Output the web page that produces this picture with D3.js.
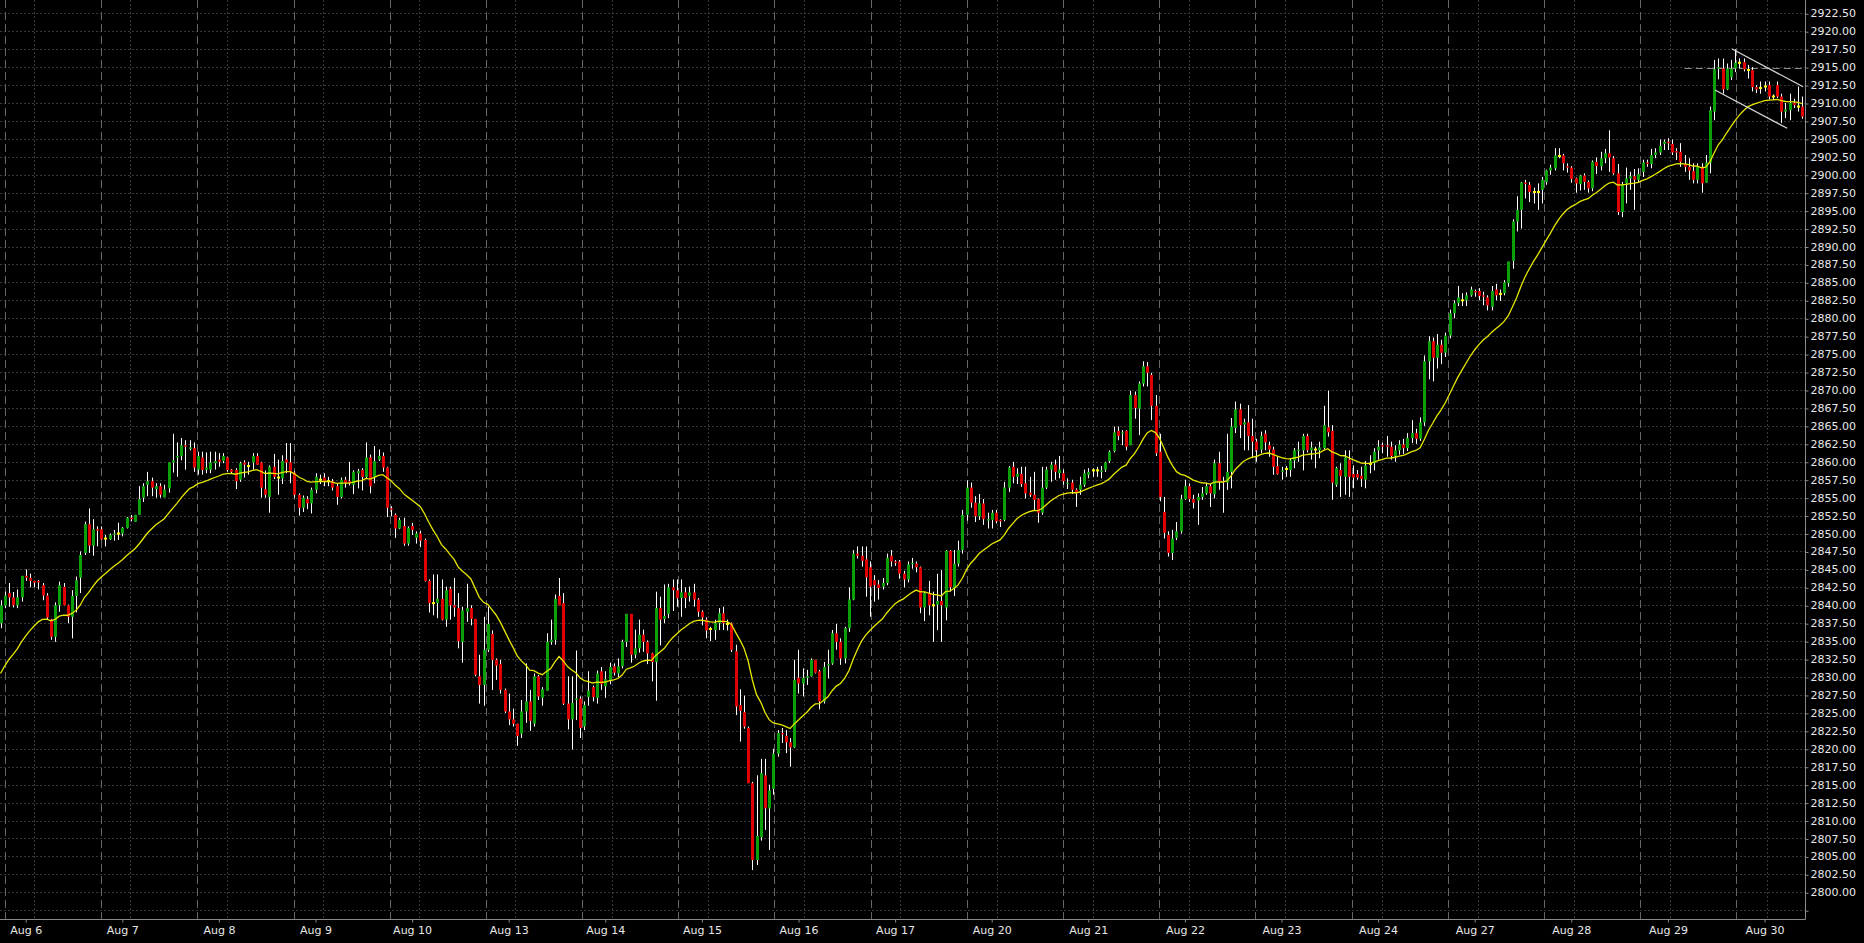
<!DOCTYPE html>
<html><head><meta charset="utf-8">
<script src="https://cdn.jsdelivr.net/npm/d3@7"></script>
<style>html,body{margin:0;padding:0;background:#000;overflow:hidden}</style>
</head><body>
<svg id="chart" width="1864" height="943"></svg>
<script>
// ---------------- DATA (hourly bars) ----------------
const opens = [
2837.5,2839.95,2841.7,2841.1,2840.0,2841.1,2844.1,2843.8,2843.4,2843.4,
2842.8,2841.35,2838.0,2835.6,2840.0,2842.55,2840.0,2838.4,2841.3,2843.85,
2847.3,2851.3,2848.3,2850.6,2850.6,2849.3,2849.2,2849.9,2850.0,2850.0,
2850.8,2852.2,2851.65,2852.6,2855.0,2856.8,2857.3,2856.2,2856.6,2855.05,
2856.3,2859.9,2860.6,2860.8,2862.3,2861.8,2861.9,2858.9,2860.6,2858.9,
2858.9,2859.8,2860.3,2860.1,2860.6,2858.9,2858.85,2857.5,2859.9,2859.4,
2859.9,2860.8,2859.9,2856.2,2855.1,2859.3,2857.8,2857.7,2860.3,2859.9,
2858.5,2855.4,2853.6,2854.8,2854.2,2856.1,2857.5,2857.8,2857.3,2857.3,
2856.6,2855.1,2857.5,2857.3,2856.8,2858.4,2858.85,2857.9,2860.6,2857.9,
2860.3,2860.8,2859.2,2853.5,2852.6,2850.7,2851.05,2848.6,2851.05,2849.4,
2850.0,2849.1,2843.4,2840.3,2840.3,2840.9,2838.0,2842.3,2840.0,2839.6,
2834.9,2839.1,2839.6,2838.1,2830.1,2828.9,2833.8,2836.0,2832.4,2831.8,
2828.2,2825.2,2824.1,2823.5,2822.1,2825.2,2826.6,2823.5,2830.1,2827.1,
2828.1,2834.9,2835.2,2841.3,2840.3,2826.3,2824.1,2826.8,2827.0,2823.1,
2827.2,2828.6,2827.1,2830.8,2828.7,2829.6,2831.5,2830.5,2831.5,2834.9,
2838.8,2833.1,2834.0,2835.9,2834.9,2833.3,2832.1,2839.6,2838.1,2838.8,
2842.5,2842.1,2841.0,2841.8,2841.3,2841.8,2840.8,2839.1,2838.0,2836.7,
2836.55,2837.5,2838.9,2837.4,2837.5,2833.6,2826.1,2825.1,2822.9,2815.2,
2804.5,2807.7,2816.3,2811.7,2814.4,2819.3,2822.2,2821.8,2820.9,2820.2,
2829.9,2829.1,2829.9,2830.1,2832.4,2830.8,2826.6,2831.6,2831.9,2836.1,
2834.9,2832.6,2836.8,2840.8,2847.2,2846.9,2846.4,2845.3,2843.5,2842.9,
2842.6,2843.1,2846.9,2846.1,2846.1,2844.4,2843.6,2845.8,2845.8,2845.3,
2839.7,2841.7,2840.0,2840.1,2840.6,2839.7,2847.6,2842.4,2845.8,2847.7,
2852.6,2856.4,2854.3,2852.4,2854.2,2851.8,2851.9,2852.9,2851.9,2851.9,
2856.4,2859.3,2857.9,2858.3,2857.0,2855.7,2855.4,2854.8,2852.9,2856.4,
2858.9,2859.6,2858.4,2858.4,2857.0,2857.1,2856.1,2856.1,2856.8,2858.2,
2858.8,2858.8,2858.6,2858.9,2860.1,2861.5,2864.3,2864.0,2864.3,2862.3,
2869.3,2867.4,2870.9,2873.3,2872.1,2867.8,2861.4,2853.0,2849.8,2847.3,
2849.4,2850.3,2854.8,2856.6,2854.8,2854.6,2855.1,2855.6,2856.6,2855.5,
2859.8,2857.3,2857.1,2858.6,2864.7,2867.3,2865.2,2865.5,2863.6,2862.8,
2861.7,2863.9,2862.3,2861.7,2859.4,2858.6,2859.0,2858.85,2860.2,2861.6,
2861.6,2863.6,2861.6,2861.7,2861.6,2861.9,2864.8,2864.3,2856.8,2858.85,
2857.9,2860.3,2858.3,2858.3,2858.05,2857.5,2859.7,2859.8,2861.6,2862.3,
2862.3,2862.1,2860.8,2861.6,2862.4,2861.9,2863.3,2864.0,2863.2,2865.5,
2874.0,2876.8,2874.5,2876.3,2875.2,2877.6,2880.7,2882.1,2882.5,2882.5,
2883.2,2883.8,2883.8,2883.2,2882.9,2881.6,2884.0,2883.4,2883.5,2884.9,
2888.0,2893.5,2895.1,2898.9,2898.6,2897.6,2897.6,2897.9,2899.0,2900.6,
2900.9,2902.6,2902.7,2901.2,2901.0,2899.5,2898.7,2899.9,2899.0,2898.1,
2901.8,2901.2,2902.3,2903.0,2902.3,2900.2,2894.8,2898.8,2899.5,2899.8,
2899.3,2900.4,2901.7,2901.5,2902.75,2903.1,2904.3,2904.6,2904.3,2903.3,
2903.2,2901.5,2901.1,2900.5,2899.3,2901.1,2898.9,2901.7,2908.8,2914.8,
2914.8,2911.9,2913.6,2914.8,2915.6,2915.7,2914.6,2914.6,2912.2,2912.1,
2912.3,2912.5,2910.9,2912.5,2910.9,2908.8,2909.0,2910.0,2909.5,2909.5
];
const highs = [
2840.7,2841.9,2843.1,2841.85,2842.2,2844.1,2845.0,2844.4,2843.4,2843.5,
2843.1,2841.7,2838.1,2840.4,2843.3,2843.1,2840.1,2842.1,2844.0,2847.5,
2851.65,2853.5,2852.0,2851.0,2851.0,2849.8,2850.0,2850.5,2851.5,2850.9,
2852.3,2852.6,2852.6,2856.6,2857.0,2858.6,2857.8,2857.0,2857.0,2856.8,
2859.9,2863.9,2862.7,2863.3,2863.0,2863.0,2862.7,2861.4,2861.4,2861.3,
2861.4,2861.4,2861.2,2861.2,2860.7,2859.0,2859.1,2860.0,2860.2,2860.0,
2861.2,2861.2,2860.0,2858.8,2859.5,2861.1,2860.3,2860.9,2862.6,2862.6,
2858.7,2855.6,2855.3,2855.2,2856.4,2858.4,2858.2,2858.4,2857.9,2857.6,
2856.9,2857.8,2857.9,2860.0,2858.8,2859.0,2859.1,2862.7,2861.0,2862.2,
2861.7,2861.3,2859.3,2853.8,2852.8,2852.2,2852.2,2851.0,2851.5,2850.3,
2850.4,2849.3,2843.6,2844.3,2844.3,2843.6,2842.6,2842.6,2843.8,2841.7,
2839.8,2843.0,2840.0,2838.1,2833.1,2838.4,2839.8,2836.5,2832.6,2832.4,
2828.4,2827.7,2825.6,2823.5,2826.8,2831.9,2828.2,2830.5,2830.3,2828.6,
2836.1,2838.0,2841.5,2843.8,2841.7,2830.1,2830.1,2833.7,2827.3,2826.6,
2830.8,2828.8,2830.9,2831.4,2830.8,2832.0,2831.9,2832.6,2835.2,2838.8,
2838.8,2836.6,2838.0,2836.6,2835.1,2833.4,2841.9,2841.2,2842.9,2843.0,
2843.6,2843.6,2843.6,2842.5,2842.6,2843.0,2841.0,2839.3,2838.3,2837.0,
2838.0,2839.6,2839.8,2838.0,2837.6,2834.5,2828.3,2827.4,2823.1,2815.4,
2816.3,2818.6,2818.6,2815.0,2820.0,2822.6,2822.9,2822.6,2821.5,2832.4,
2833.8,2831.2,2831.0,2832.6,2832.4,2831.0,2832.1,2833.8,2836.55,2837.4,
2835.4,2837.0,2842.5,2847.7,2848.2,2848.2,2848.2,2846.1,2844.2,2843.5,
2843.8,2847.2,2847.7,2846.3,2846.3,2844.8,2846.1,2846.6,2846.1,2845.4,
2841.9,2843.4,2841.9,2844.4,2844.9,2847.7,2847.7,2847.7,2849.0,2853.3,
2857.4,2857.1,2855.2,2855.5,2854.8,2852.9,2853.3,2853.3,2852.0,2857.2,
2859.4,2860.0,2859.1,2859.3,2859.3,2857.9,2858.6,2854.9,2859.3,2859.3,
2860.0,2860.3,2860.8,2858.9,2857.7,2857.5,2856.3,2857.9,2858.9,2859.1,
2859.1,2859.3,2859.4,2860.0,2861.6,2864.9,2864.9,2864.4,2864.4,2869.9,
2869.8,2871.2,2874.0,2873.9,2872.4,2869.3,2863.9,2855.1,2850.3,2850.5,
2851.6,2855.4,2857.5,2857.0,2855.4,2855.6,2856.5,2857.1,2856.9,2860.3,
2861.4,2857.9,2863.9,2866.1,2868.4,2868.1,2866.0,2867.9,2866.0,2863.2,
2864.2,2864.4,2862.8,2862.1,2860.7,2859.3,2859.4,2860.5,2861.9,2862.8,
2863.9,2863.9,2862.8,2862.1,2862.8,2867.8,2869.9,2865.1,2859.3,2859.8,
2861.6,2861.6,2859.5,2858.85,2859.3,2860.1,2860.9,2861.9,2863.0,2862.7,
2863.6,2862.8,2862.3,2863.0,2863.2,2864.0,2865.8,2864.6,2866.2,2874.8,
2877.5,2877.3,2877.8,2877.0,2878.0,2881.2,2882.5,2884.5,2883.5,2883.6,
2884.4,2884.0,2884.2,2883.7,2883.2,2884.5,2884.8,2884.0,2885.3,2887.9,
2893.8,2897.0,2899.0,2899.3,2899.0,2898.2,2898.8,2899.7,2900.7,2901.4,
2903.7,2903.7,2902.9,2901.6,2901.2,2899.6,2900.0,2900.2,2899.2,2902.0,
2902.4,2903.2,2903.6,2906.2,2902.6,2901.5,2899.0,2901.0,2900.4,2900.8,
2900.9,2902.1,2902.1,2903.6,2903.7,2904.9,2904.9,2905.1,2904.9,2903.7,
2904.4,2902.75,2902.3,2901.6,2901.6,2901.6,2902.75,2909.5,2916.0,2916.2,
2916.2,2915.5,2916.0,2917.5,2916.2,2916.2,2915.3,2915.0,2912.5,2913.0,
2913.0,2913.0,2911.2,2913.0,2911.3,2910.0,2911.3,2910.6,2912.3,2910.9
];
const lows = [
2836.8,2839.6,2839.8,2839.7,2839.6,2840.5,2843.4,2842.5,2842.5,2842.2,
2840.7,2838.0,2835.2,2834.9,2839.1,2840.0,2837.5,2835.4,2839.0,2841.7,
2847.0,2847.3,2846.9,2848.2,2849.1,2848.2,2849.1,2849.0,2849.1,2849.6,
2850.7,2851.7,2851.65,2852.6,2854.4,2855.2,2855.2,2855.0,2855.0,2855.05,
2855.7,2858.5,2857.9,2860.2,2858.9,2861.6,2858.6,2858.2,2858.2,2858.4,
2858.4,2858.9,2859.3,2859.8,2858.6,2858.3,2856.2,2857.2,2857.8,2858.2,
2858.9,2859.55,2855.0,2855.0,2852.9,2857.6,2855.4,2856.9,2858.4,2857.0,
2855.0,2852.5,2853.0,2853.4,2852.8,2855.6,2856.9,2856.6,2856.6,2856.0,
2854.0,2854.9,2856.4,2856.7,2855.5,2856.3,2856.0,2857.6,2855.6,2857.0,
2860.1,2858.6,2852.3,2852.4,2849.4,2850.6,2848.3,2848.3,2849.8,2848.6,
2848.1,2843.3,2839.0,2838.6,2838.2,2837.9,2837.0,2838.0,2838.4,2834.0,
2832.0,2837.7,2837.2,2830.1,2826.3,2826.0,2833.5,2828.2,2829.6,2827.7,
2825.0,2823.3,2823.1,2820.4,2821.5,2823.6,2822.5,2823.1,2826.8,2826.0,
2828.1,2834.5,2834.5,2840.0,2826.1,2822.7,2819.9,2824.0,2821.5,2822.6,
2826.0,2826.6,2826.3,2828.2,2827.1,2829.0,2830.2,2830.0,2831.2,2834.2,
2832.0,2832.6,2833.4,2833.5,2831.8,2829.4,2826.7,2834.4,2837.5,2838.2,
2839.2,2839.8,2838.4,2839.6,2840.5,2839.8,2838.4,2837.2,2835.4,2835.0,
2835.2,2836.55,2836.55,2836.5,2833.5,2824.7,2821.0,2822.8,2815.2,2803.1,
2803.8,2807.2,2808.7,2805.9,2813.6,2818.9,2820.8,2819.4,2817.5,2820.1,
2827.7,2827.3,2828.9,2830.05,2830.5,2825.5,2826.3,2829.8,2831.7,2833.8,
2831.7,2831.9,2836.3,2840.7,2846.5,2845.4,2841.2,2838.4,2840.5,2840.8,
2842.2,2842.8,2845.4,2845.5,2843.7,2842.5,2843.2,2845.1,2844.6,2838.9,
2837.8,2838.6,2834.9,2836.55,2834.9,2837.9,2841.9,2841.3,2845.4,2847.2,
2851.8,2853.6,2851.6,2851.9,2851.2,2850.7,2850.7,2851.4,2850.9,2851.7,
2855.8,2857.0,2856.9,2856.5,2854.9,2855.1,2853.3,2851.5,2852.6,2856.2,
2857.2,2857.5,2857.7,2856.8,2856.2,2855.5,2853.7,2855.4,2856.5,2857.7,
2857.9,2857.9,2857.7,2858.6,2859.8,2861.3,2863.0,2862.3,2861.6,2862.3,
2866.0,2863.7,2870.5,2870.5,2865.8,2860.8,2854.5,2849.3,2846.8,2846.3,
2849.1,2850.0,2854.7,2854.4,2853.5,2851.2,2854.7,2855.4,2853.7,2854.9,
2856.1,2852.9,2856.1,2856.3,2864.0,2863.3,2861.6,2861.6,2860.5,2860.0,
2861.2,2861.6,2860.7,2858.2,2858.2,2857.5,2857.9,2857.9,2859.1,2860.0,
2858.8,2861.3,2860.3,2859.1,2860.5,2861.7,2863.5,2854.7,2856.5,2855.1,
2855.4,2855.1,2856.3,2857.5,2856.5,2856.3,2858.4,2858.8,2860.3,2861.2,
2860.7,2860.3,2860.0,2861.0,2861.1,2861.5,2862.6,2862.5,2862.9,2865.0,
2871.5,2871.2,2873.0,2873.6,2874.6,2877.2,2880.0,2881.7,2881.7,2881.7,
2883.0,2883.0,2882.5,2881.8,2881.1,2881.1,2882.5,2882.4,2883.2,2884.4,
2886.9,2892.1,2892.5,2896.7,2896.2,2896.0,2895.1,2896.0,2898.6,2900.0,
2900.6,2902.3,2900.6,2900.3,2898.9,2897.5,2897.8,2897.9,2897.5,2897.7,
2900.1,2900.6,2901.6,2900.4,2900.0,2894.4,2894.1,2896.0,2897.9,2895.1,
2899.0,2899.7,2901.1,2900.9,2902.3,2902.75,2903.45,2903.45,2902.75,2902.05,
2901.1,2900.4,2899.3,2898.8,2898.8,2897.5,2898.9,2900.2,2907.6,2913.3,
2911.3,2911.8,2913.2,2914.3,2914.8,2914.4,2913.4,2911.6,2911.4,2911.3,
2911.6,2910.5,2910.4,2910.7,2907.2,2907.9,2907.6,2909.3,2908.8,2907.8
];
const closes = [
2840.0,2841.35,2841.1,2840.0,2841.1,2844.1,2843.85,2843.4,2843.15,2843.2,
2841.35,2838.3,2835.6,2840.0,2842.8,2840.0,2838.4,2841.3,2843.5,2847.0,
2851.3,2848.3,2850.6,2850.4,2849.2,2849.3,2849.8,2850.0,2850.0,2850.8,
2852.2,2852.0,2852.6,2854.8,2856.6,2857.3,2856.4,2856.6,2855.4,2856.1,
2859.9,2860.2,2860.8,2862.3,2862.1,2862.0,2859.2,2860.8,2858.85,2859.2,
2859.9,2860.1,2860.0,2860.8,2858.85,2858.6,2857.3,2859.8,2859.6,2859.4,
2860.8,2859.6,2856.4,2855.4,2859.3,2857.9,2857.8,2860.1,2859.9,2858.6,
2855.4,2853.6,2855.0,2854.2,2856.1,2857.9,2857.5,2857.2,2857.3,2856.4,
2855.1,2857.5,2857.0,2857.0,2858.6,2858.7,2857.9,2860.6,2856.6,2860.1,
2860.8,2859.2,2853.6,2853.3,2850.7,2851.9,2848.6,2850.8,2850.5,2850.0,
2849.0,2843.4,2840.3,2840.3,2840.9,2838.0,2842.1,2840.0,2839.7,2835.0,
2839.3,2839.6,2838.1,2830.3,2828.9,2833.8,2837.4,2832.4,2831.6,2828.2,
2825.2,2824.1,2823.5,2821.8,2825.2,2826.6,2823.9,2830.1,2827.3,2828.3,
2834.9,2835.2,2840.9,2840.0,2826.3,2824.1,2826.4,2827.0,2822.9,2826.1,
2828.1,2827.2,2830.5,2829.0,2829.7,2831.4,2830.6,2831.5,2834.9,2838.8,
2833.1,2834.0,2835.9,2834.9,2833.3,2832.1,2839.6,2838.0,2838.5,2842.5,
2842.1,2841.0,2841.8,2841.0,2841.8,2840.8,2839.1,2838.3,2836.5,2836.7,
2837.5,2838.9,2837.5,2837.4,2833.8,2825.9,2825.3,2823.1,2815.2,2804.5,
2807.85,2816.6,2811.7,2814.2,2819.3,2822.2,2822.0,2820.9,2820.2,2829.6,
2829.1,2829.9,2830.1,2832.4,2830.6,2826.6,2831.4,2831.8,2836.1,2834.9,
2832.6,2836.8,2840.8,2847.2,2846.9,2846.2,2843.9,2842.6,2842.8,2842.4,
2843.1,2846.6,2846.1,2845.9,2844.4,2843.6,2845.7,2845.9,2845.3,2839.7,
2841.7,2840.0,2840.0,2840.6,2840.0,2847.6,2842.5,2845.8,2847.7,2852.6,
2856.4,2854.3,2852.4,2854.2,2852.0,2852.0,2852.9,2851.7,2851.7,2856.4,
2859.2,2857.9,2858.3,2856.9,2855.6,2855.4,2854.7,2852.9,2856.4,2858.9,
2859.6,2858.6,2858.9,2857.3,2857.1,2856.1,2855.6,2856.8,2858.4,2858.6,
2858.8,2858.8,2858.8,2859.9,2861.4,2864.1,2863.6,2864.1,2862.1,2869.3,
2867.5,2870.9,2873.3,2872.4,2867.8,2861.2,2855.1,2850.1,2847.3,2849.3,
2850.3,2854.8,2856.6,2854.8,2854.3,2855.1,2855.6,2856.6,2855.6,2859.8,
2857.3,2857.2,2858.6,2864.9,2867.3,2865.1,2865.5,2863.6,2862.8,2861.6,
2863.6,2862.7,2861.7,2859.3,2858.3,2858.8,2859.0,2860.2,2861.6,2861.7,
2863.6,2861.6,2862.0,2861.7,2862.0,2865.1,2864.1,2857.1,2859.1,2858.0,
2860.6,2857.9,2857.8,2857.8,2857.6,2859.5,2859.7,2861.4,2862.1,2862.1,
2862.1,2860.8,2861.6,2862.4,2861.9,2863.3,2864.0,2863.2,2865.5,2874.0,
2876.8,2874.5,2876.3,2875.2,2877.6,2880.7,2882.1,2882.9,2882.5,2883.2,
2884.0,2883.6,2883.1,2883.0,2881.8,2883.8,2883.2,2883.4,2885.0,2887.9,
2893.5,2895.1,2898.9,2898.7,2897.6,2897.6,2897.6,2899.3,2900.6,2901.0,
2902.7,2902.6,2901.6,2901.0,2899.4,2898.8,2899.9,2899.0,2898.1,2901.8,
2901.2,2902.3,2903.0,2902.4,2900.2,2894.8,2898.6,2899.5,2899.8,2899.3,
2900.1,2901.7,2901.5,2902.75,2903.1,2904.0,2904.6,2904.4,2903.1,2903.1,
2901.8,2901.1,2900.6,2899.3,2901.1,2898.8,2901.7,2909.0,2914.7,2915.0,
2911.9,2914.8,2914.8,2915.6,2915.6,2914.7,2914.6,2912.2,2911.9,2912.1,
2912.3,2910.9,2910.9,2910.9,2908.8,2909.1,2910.0,2909.7,2909.5,2908.1
];
// moving average (exponential) : value at the first visible bar, and period
const maStart = 2830.5;
const maPeriod = 20;
// x-axis day labels and the bar where each day starts
const dayLabels = ["Aug 6","Aug 7","Aug 8","Aug 9","Aug 10","Aug 13","Aug 14","Aug 15","Aug 16","Aug 17","Aug 20","Aug 21","Aug 22","Aug 23","Aug 24","Aug 27","Aug 28","Aug 29","Aug 30"];
const dayBars = [6,29,52,75,98,121,144,167,190,213,236,259,282,305,328,351,374,397,420];
// price axis
const priceMin = 2800, priceMax = 2922.5, priceStep = 2.5;
// channel drawn on the chart (bar index, price)
const channelUpperBars = [412.2, 429.2], channelUpperPrices = [2917.56, 2912.26];
const channelLowerBars = [408.2, 425.4], channelLowerPrices = [2911.8, 2906.47];
// horizontal dashed level
const levelPrice = 2914.85, levelFromBar = 401;

// ---------------- LAYOUT ----------------
const W = 1864, H = 943;
const plotR = 1805, plotB = 919;
const svg = d3.select("#chart");
svg.append("rect").attr("width", W).attr("height", H).attr("fill", "#000");

const n = closes.length;
const x = d3.scaleLinear().domain([0, n - 1]).range([0.5, 1802.3]);
const y = d3.scaleLinear().domain([priceMin, priceMax]).range([892.3, 13.3]);

svg.append("clipPath").attr("id", "plotclip").append("rect")
  .attr("x", 0).attr("y", 0).attr("width", plotR).attr("height", plotB);
const g = svg.append("g").attr("clip-path", "url(#plotclip)");

// horizontal grid
const gridTicks = d3.range(priceMin - priceStep, priceMax + 0.001, priceStep);
g.append("g").selectAll("line").data(gridTicks).join("line")
  .attr("x1", 0).attr("x2", plotR)
  .attr("y1", d => Math.round(y(d)) + 0.5).attr("y2", d => Math.round(y(d)) + 0.5)
  .attr("stroke", "#383838").attr("stroke-width", 1).attr("stroke-dasharray", "2,2");

// vertical grid: fine dotted and long-dashed
const gridFine = d3.range(19).map(k => 34 + k * 96.26);
const gridLong = d3.range(19).map(k => 5 + k * 96.18);
g.append("g").selectAll("line").data(gridFine).join("line")
  .attr("x1", d => Math.round(d) + 0.5).attr("x2", d => Math.round(d) + 0.5)
  .attr("y1", 0).attr("y2", plotB)
  .attr("stroke", "#383838").attr("stroke-dasharray", "2,2");
g.append("g").selectAll("line").data(gridLong).join("line")
  .attr("x1", d => Math.round(d) + 0.5).attr("x2", d => Math.round(d) + 0.5)
  .attr("y1", 0).attr("y2", plotB)
  .attr("stroke", "#646464").attr("stroke-dasharray", "8,4");

// horizontal level
g.append("line")
  .attr("x1", x(levelFromBar)).attr("x2", plotR)
  .attr("y1", Math.round(y(levelPrice)) + 0.5).attr("y2", Math.round(y(levelPrice)) + 0.5)
  .attr("stroke", "#8c8c8c").attr("stroke-dasharray", "7,4");

// candles
const idx = d3.range(n);
const cx = i => Math.round(x(i));
g.append("g").selectAll("line").data(idx).join("line")
  .attr("x1", i => cx(i) + 0.5).attr("x2", i => cx(i) + 0.5)
  .attr("y1", i => y(highs[i])).attr("y2", i => y(lows[i]))
  .attr("stroke", "#ffffff").attr("stroke-width", 1);
g.append("g").selectAll("rect").data(idx).join("rect")
  .attr("x", i => cx(i) - 1)
  .attr("width", 3)
  .attr("y", i => {
    if (opens[i] === closes[i]) return y(opens[i]) - 1;
    return y(Math.max(opens[i], closes[i]));
  })
  .attr("height", i => {
    if (opens[i] === closes[i]) return 2;
    return Math.max(1.2, Math.abs(y(opens[i]) - y(closes[i])));
  })
  .attr("fill", i => opens[i] === closes[i] ? "#ffff00" : (closes[i] > opens[i] ? "#0aa00a" : "#e00000"));

// exponential moving average
const alpha = 2 / (maPeriod + 1);
const ma = [];
closes.forEach((c, i) => { ma.push(i === 0 ? maStart : ma[i - 1] + alpha * (c - ma[i - 1])); });
g.append("path").datum(idx)
  .attr("d", d3.line().x(i => x(i)).y(i => y(ma[i])))
  .attr("fill", "none").attr("stroke", "#e6e600").attr("stroke-width", 1.3);

// channel
[[channelUpperBars, channelUpperPrices], [channelLowerBars, channelLowerPrices]].forEach(([b, p]) => {
  g.append("line")
    .attr("x1", x(b[0])).attr("y1", y(p[0])).attr("x2", x(b[1])).attr("y2", y(p[1]))
    .attr("stroke", "#d8d8d8").attr("stroke-width", 1.2);
});

// axes
const axisColor = "#8a8a8a", textColor = "#e8e8e8";
const yAxis = d3.axisRight(y)
  .tickValues(gridTicks)
  .tickFormat(d => d >= priceMin ? d.toFixed(2) : "")
  .tickSize(3).tickPadding(2);
const ya = svg.append("g").attr("transform", `translate(${plotR + 0.5},0)`).call(yAxis);
ya.select(".domain").remove();
ya.selectAll(".tick line").attr("stroke", axisColor).attr("transform", "translate(0,0.5)");
ya.selectAll("text").attr("fill", textColor).style("font-family", "DejaVu Sans").style("font-size", "11px");

const xAxis = d3.axisBottom(x)
  .tickValues(dayBars)
  .tickFormat((d, i) => dayLabels[i])
  .tickSize(3).tickPadding(4);
const xa = svg.append("g").attr("transform", `translate(0,${plotB + 0.5})`).call(xAxis);
xa.select(".domain").remove();
xa.selectAll(".tick line").attr("stroke", axisColor);
xa.selectAll("text").attr("fill", textColor).style("font-family", "DejaVu Sans").style("font-size", "11px");

// frame lines
svg.append("line").attr("x1", plotR + 0.5).attr("x2", plotR + 0.5).attr("y1", 0).attr("y2", plotB + 0.5)
  .attr("stroke", axisColor);
svg.append("line").attr("x1", 0).attr("x2", plotR + 0.5).attr("y1", plotB + 0.5).attr("y2", plotB + 0.5)
  .attr("stroke", axisColor);
</script>
</body></html>
